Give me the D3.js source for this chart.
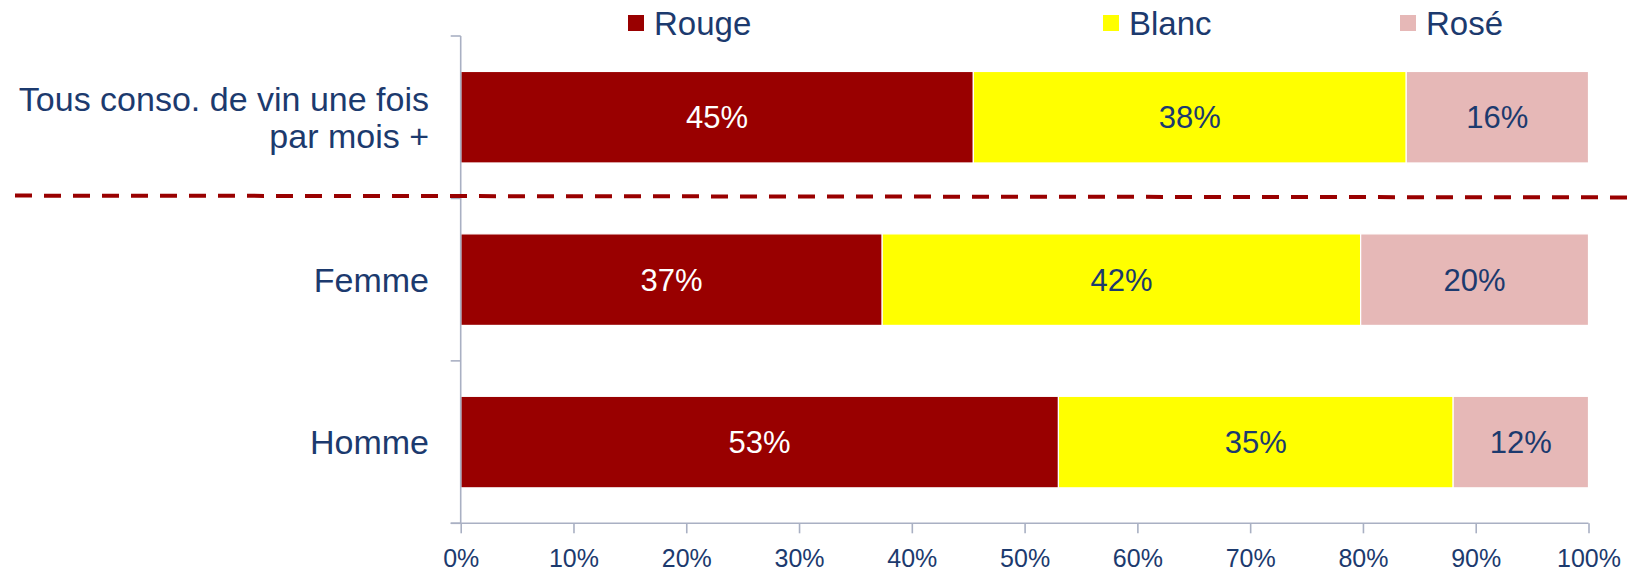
<!DOCTYPE html>
<html>
<head>
<meta charset="utf-8">
<script src="https://cdn.jsdelivr.net/npm/d3@7"></script>
<style>
  html, body { margin: 0; padding: 0; background: #ffffff; }
  svg { display: block; font-family: "Liberation Sans", Arial, sans-serif; }
</style>
</head>
<body>
<svg id="chart" width="1630" height="574"></svg>
<script>
// Wine colour preference by consumer group (100% stacked)
const categories = ["Tous conso. de vin une fois par mois +", "Femme", "Homme"];
const categoryLines = [["Tous conso. de vin une fois", "par mois +"], ["Femme"], ["Homme"]];
const seriesNames = ["Rouge", "Blanc", "Rosé"];
const rouge = [45, 37, 53];
const blanc = [38, 42, 35];
const rose = [16, 20, 12];
const xTickValues = [0, 0.1, 0.2, 0.3, 0.4, 0.5, 0.6, 0.7, 0.8, 0.9, 1];

const colors = { "Rouge": "#990000", "Blanc": "#ffff00", "Rosé": "#e6b8b7" };
const labelColors = { "Rouge": "#ffffff", "Blanc": "#1c3a6e", "Rosé": "#1c3a6e" };
const textBlue = "#1c3a6e";
const axisGrey = "#a9b0c3";

const rows = categories.map((c, i) => ({
  category: c, "Rouge": rouge[i], "Blanc": blanc[i], "Rosé": rose[i]
}));

const svg = d3.select("#chart");
const plot = { left: 460.7, right: 1588.5, top: 36, bottom: 523.3 };

const x = d3.scaleLinear().domain([0, 1]).range([plot.left, plot.right]);
const y = d3.scaleBand()
  .domain(categories)
  .range([plot.top, plot.bottom])
  .paddingInner(0.4366)
  .paddingOuter(0.2183);

const stacked = d3.stack()
  .keys(seriesNames)
  .offset(d3.stackOffsetExpand)(rows);

// Bars
const layers = svg.append("g").selectAll("g")
  .data(stacked)
  .join("g")
  .attr("fill", d => colors[d.key]);

layers.selectAll("rect")
  .data(d => d.map(v => ({ key: d.key, v })))
  .join("rect")
  .attr("x", d => x(d.v[0]))
  .attr("y", d => y(d.v.data.category))
  .attr("width", d => x(d.v[1]) - x(d.v[0]))
  .attr("height", y.bandwidth())
  .attr("stroke", "#ffffff")
  .attr("stroke-width", 1.2);

// Value labels
layers.selectAll("text")
  .data(d => d.map(v => ({ key: d.key, v })))
  .join("text")
  .attr("x", d => (x(d.v[0]) + x(d.v[1])) / 2)
  .attr("y", d => y(d.v.data.category) + y.bandwidth() / 2)
  .attr("dy", "0.36em")
  .attr("text-anchor", "middle")
  .attr("font-size", 31)
  .attr("fill", d => labelColors[d.key])
  .text(d => d.v.data[d.key] + "%");

// Vertical category axis with ticks at band boundaries
const step = y.step();
const start = plot.top;
const yAxis = svg.append("g").attr("stroke", axisGrey).attr("stroke-width", 1.6);
yAxis.append("line")
  .attr("x1", plot.left).attr("x2", plot.left)
  .attr("y1", plot.top).attr("y2", plot.bottom);
d3.range(categories.length + 1).forEach(i => {
  yAxis.append("line")
    .attr("x1", plot.left - 10).attr("x2", plot.left)
    .attr("y1", start + i * step).attr("y2", start + i * step);
});

// Category labels
const catG = svg.append("g")
  .attr("font-size", 34)
  .attr("fill", textBlue)
  .attr("text-anchor", "end");
categoryLines.forEach((lines, i) => {
  const cy = y(categories[i]) + y.bandwidth() / 2;
  const lh = 37;
  lines.forEach((ln, j) => {
    catG.append("text")
      .attr("x", 429)
      .attr("y", cy + (j - (lines.length - 1) / 2) * lh)
      .attr("dy", "0.35em")
      .text(ln);
  });
});

// Horizontal percentage axis
const xAxis = svg.append("g")
  .attr("transform", `translate(0,${plot.bottom})`)
  .call(d3.axisBottom(x).tickValues(xTickValues).tickFormat(d3.format(".0%")).tickSize(10).tickSizeOuter(0));
xAxis.select(".domain").remove();
xAxis.append("line")
  .attr("x1", plot.left - 10).attr("x2", plot.right)
  .attr("y1", 0).attr("y2", 0)
  .attr("stroke", axisGrey).attr("stroke-width", 1.6);
xAxis.selectAll(".tick line").attr("stroke", axisGrey).attr("stroke-width", 1.6);
xAxis.selectAll(".tick text")
  .attr("y", 44)
  .attr("dy", 0)
  .attr("font-size", 25)
  .attr("font-family", "\"Liberation Sans\", Arial, sans-serif")
  .attr("fill", textBlue);

// Dashed separator below the overall group
svg.append("line")
  .attr("x1", 15).attr("y1", 195.6)
  .attr("x2", 1630).attr("y2", 197.4)
  .attr("stroke", "#990000")
  .attr("stroke-width", 4)
  .attr("stroke-dasharray", "17 12");

// Legend
const legendX = [628, 1103, 1400];
const legend = svg.append("g");
seriesNames.forEach((name, i) => {
  const g = legend.append("g").attr("transform", `translate(${legendX[i]},0)`);
  g.append("rect")
    .attr("x", 0).attr("y", 15)
    .attr("width", 16).attr("height", 16)
    .attr("fill", colors[name]);
  g.append("text")
    .attr("x", 26).attr("y", 23)
    .attr("dy", "0.36em")
    .attr("font-size", 33)
    .attr("fill", textBlue)
    .text(name);
});
</script>
</body>
</html>
